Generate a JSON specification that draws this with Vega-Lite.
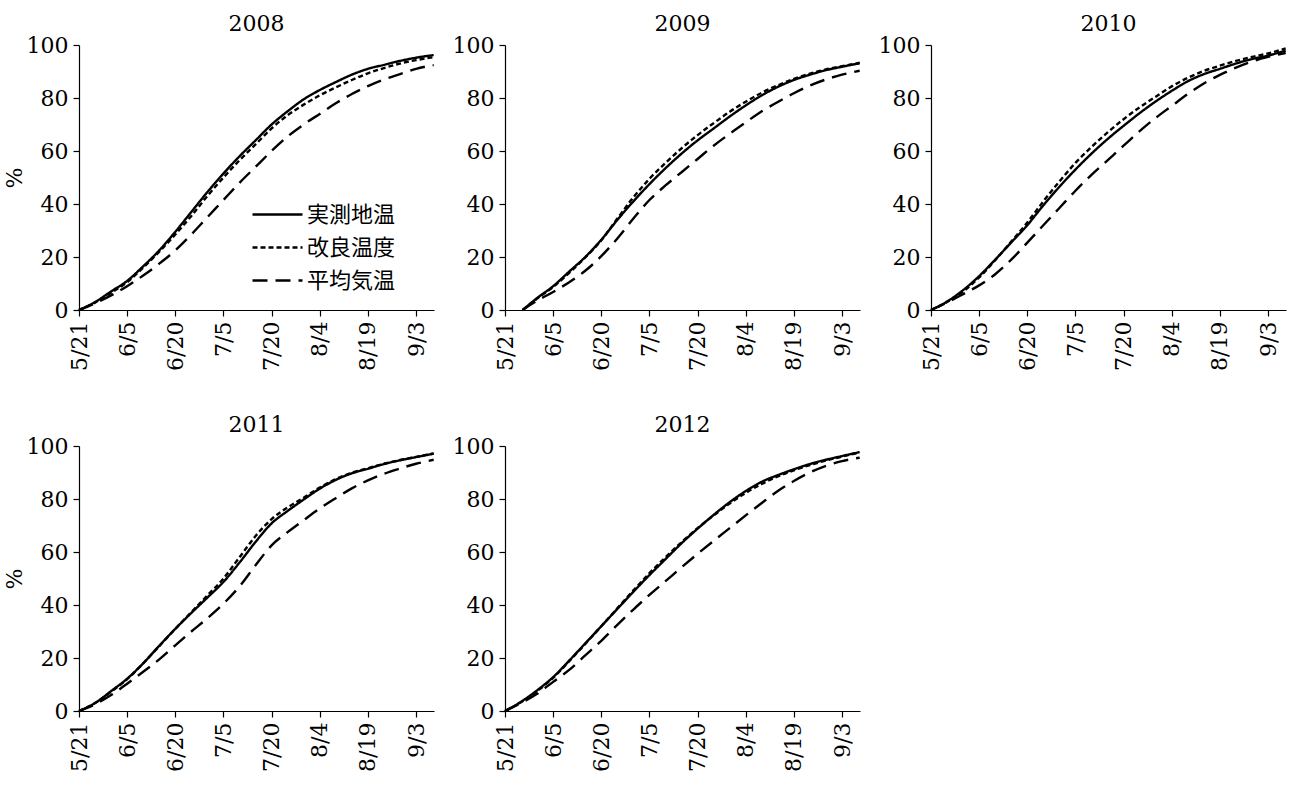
{
  "$schema": "https://vega.github.io/schema/vega-lite/v6.json",
  "background": "white",
  "padding": {"left": 3, "top": 13, "right": 5, "bottom": 5},
  "datasets": {
    "curves": [
      {"year":2008,"series":"実測地温","day":0,"pct":0},{"year":2008,"series":"実測地温","day":5,"pct":3},{"year":2008,"series":"実測地温","day":10,"pct":7},{"year":2008,"series":"実測地温","day":15,"pct":11},{"year":2008,"series":"実測地温","day":20,"pct":16.5},{"year":2008,"series":"実測地温","day":25,"pct":22.5},{"year":2008,"series":"実測地温","day":30,"pct":29.5},{"year":2008,"series":"実測地温","day":35,"pct":37},{"year":2008,"series":"実測地温","day":40,"pct":44.5},{"year":2008,"series":"実測地温","day":45,"pct":51.5},{"year":2008,"series":"実測地温","day":50,"pct":58},{"year":2008,"series":"実測地温","day":55,"pct":64},{"year":2008,"series":"実測地温","day":60,"pct":70},{"year":2008,"series":"実測地温","day":65,"pct":75},{"year":2008,"series":"実測地温","day":70,"pct":79.5},{"year":2008,"series":"実測地温","day":75,"pct":83},{"year":2008,"series":"実測地温","day":80,"pct":86},{"year":2008,"series":"実測地温","day":85,"pct":88.8},{"year":2008,"series":"実測地温","day":90,"pct":91},{"year":2008,"series":"実測地温","day":95,"pct":92.5},{"year":2008,"series":"実測地温","day":100,"pct":94},{"year":2008,"series":"実測地温","day":105,"pct":95.2},{"year":2008,"series":"実測地温","day":110.5,"pct":96.2},
      {"year":2008,"series":"改良温度","day":0,"pct":0},{"year":2008,"series":"改良温度","day":5,"pct":2.8},{"year":2008,"series":"改良温度","day":10,"pct":6.5},{"year":2008,"series":"改良温度","day":15,"pct":10.5},{"year":2008,"series":"改良温度","day":20,"pct":16},{"year":2008,"series":"改良温度","day":25,"pct":22},{"year":2008,"series":"改良温度","day":30,"pct":28.5},{"year":2008,"series":"改良温度","day":35,"pct":35.5},{"year":2008,"series":"改良温度","day":40,"pct":43},{"year":2008,"series":"改良温度","day":45,"pct":50},{"year":2008,"series":"改良温度","day":50,"pct":56.5},{"year":2008,"series":"改良温度","day":55,"pct":62.5},{"year":2008,"series":"改良温度","day":60,"pct":68.5},{"year":2008,"series":"改良温度","day":65,"pct":73.5},{"year":2008,"series":"改良温度","day":70,"pct":77.5},{"year":2008,"series":"改良温度","day":75,"pct":81},{"year":2008,"series":"改良温度","day":80,"pct":84},{"year":2008,"series":"改良温度","day":85,"pct":86.8},{"year":2008,"series":"改良温度","day":90,"pct":89.3},{"year":2008,"series":"改良温度","day":95,"pct":91.3},{"year":2008,"series":"改良温度","day":100,"pct":93},{"year":2008,"series":"改良温度","day":105,"pct":94.3},{"year":2008,"series":"改良温度","day":110.5,"pct":95.4},
      {"year":2008,"series":"平均気温","day":0,"pct":0},{"year":2008,"series":"平均気温","day":5,"pct":2.5},{"year":2008,"series":"平均気温","day":10,"pct":5.5},{"year":2008,"series":"平均気温","day":15,"pct":9},{"year":2008,"series":"平均気温","day":20,"pct":13},{"year":2008,"series":"平均気温","day":25,"pct":17.5},{"year":2008,"series":"平均気温","day":30,"pct":22.5},{"year":2008,"series":"平均気温","day":35,"pct":28.5},{"year":2008,"series":"平均気温","day":40,"pct":35},{"year":2008,"series":"平均気温","day":45,"pct":41.5},{"year":2008,"series":"平均気温","day":50,"pct":48},{"year":2008,"series":"平均気温","day":55,"pct":54},{"year":2008,"series":"平均気温","day":60,"pct":60},{"year":2008,"series":"平均気温","day":65,"pct":65.5},{"year":2008,"series":"平均気温","day":70,"pct":70},{"year":2008,"series":"平均気温","day":75,"pct":74},{"year":2008,"series":"平均気温","day":80,"pct":78},{"year":2008,"series":"平均気温","day":85,"pct":81.5},{"year":2008,"series":"平均気温","day":90,"pct":84.5},{"year":2008,"series":"平均気温","day":95,"pct":87},{"year":2008,"series":"平均気温","day":100,"pct":89},{"year":2008,"series":"平均気温","day":105,"pct":91},{"year":2008,"series":"平均気温","day":110.5,"pct":92.4},

      {"year":2009,"series":"実測地温","day":5.5,"pct":0},{"year":2009,"series":"実測地温","day":10,"pct":4.5},{"year":2009,"series":"実測地温","day":15,"pct":9},{"year":2009,"series":"実測地温","day":20,"pct":14.5},{"year":2009,"series":"実測地温","day":25,"pct":20},{"year":2009,"series":"実測地温","day":30,"pct":26.5},{"year":2009,"series":"実測地温","day":35,"pct":34},{"year":2009,"series":"実測地温","day":40,"pct":41},{"year":2009,"series":"実測地温","day":45,"pct":47.5},{"year":2009,"series":"実測地温","day":50,"pct":53.5},{"year":2009,"series":"実測地温","day":55,"pct":59},{"year":2009,"series":"実測地温","day":60,"pct":64},{"year":2009,"series":"実測地温","day":65,"pct":68.5},{"year":2009,"series":"実測地温","day":70,"pct":73},{"year":2009,"series":"実測地温","day":75,"pct":77.2},{"year":2009,"series":"実測地温","day":80,"pct":81},{"year":2009,"series":"実測地温","day":85,"pct":84.2},{"year":2009,"series":"実測地温","day":90,"pct":86.8},{"year":2009,"series":"実測地温","day":95,"pct":88.8},{"year":2009,"series":"実測地温","day":100,"pct":90.5},{"year":2009,"series":"実測地温","day":105,"pct":91.8},{"year":2009,"series":"実測地温","day":110.5,"pct":93.1},
      {"year":2009,"series":"改良温度","day":5.5,"pct":0},{"year":2009,"series":"改良温度","day":10,"pct":4.3},{"year":2009,"series":"改良温度","day":15,"pct":8.7},{"year":2009,"series":"改良温度","day":20,"pct":14},{"year":2009,"series":"改良温度","day":25,"pct":19.8},{"year":2009,"series":"改良温度","day":30,"pct":26.3},{"year":2009,"series":"改良温度","day":35,"pct":34.5},{"year":2009,"series":"改良温度","day":40,"pct":42.5},{"year":2009,"series":"改良温度","day":45,"pct":49.5},{"year":2009,"series":"改良温度","day":50,"pct":55.5},{"year":2009,"series":"改良温度","day":55,"pct":61},{"year":2009,"series":"改良温度","day":60,"pct":66},{"year":2009,"series":"改良温度","day":65,"pct":70.5},{"year":2009,"series":"改良温度","day":70,"pct":74.8},{"year":2009,"series":"改良温度","day":75,"pct":78.6},{"year":2009,"series":"改良温度","day":80,"pct":82},{"year":2009,"series":"改良温度","day":85,"pct":84.8},{"year":2009,"series":"改良温度","day":90,"pct":87.2},{"year":2009,"series":"改良温度","day":95,"pct":89.2},{"year":2009,"series":"改良温度","day":100,"pct":90.8},{"year":2009,"series":"改良温度","day":105,"pct":92},{"year":2009,"series":"改良温度","day":110.5,"pct":93.3},
      {"year":2009,"series":"平均気温","day":5.5,"pct":0},{"year":2009,"series":"平均気温","day":10,"pct":3.5},{"year":2009,"series":"平均気温","day":15,"pct":6.8},{"year":2009,"series":"平均気温","day":20,"pct":10.5},{"year":2009,"series":"平均気温","day":25,"pct":14.8},{"year":2009,"series":"平均気温","day":30,"pct":20.3},{"year":2009,"series":"平均気温","day":35,"pct":27},{"year":2009,"series":"平均気温","day":40,"pct":34.5},{"year":2009,"series":"平均気温","day":45,"pct":41.5},{"year":2009,"series":"平均気温","day":50,"pct":47},{"year":2009,"series":"平均気温","day":55,"pct":52},{"year":2009,"series":"平均気温","day":60,"pct":57},{"year":2009,"series":"平均気温","day":65,"pct":62},{"year":2009,"series":"平均気温","day":70,"pct":66.5},{"year":2009,"series":"平均気温","day":75,"pct":70.8},{"year":2009,"series":"平均気温","day":80,"pct":75},{"year":2009,"series":"平均気温","day":85,"pct":78.5},{"year":2009,"series":"平均気温","day":90,"pct":81.8},{"year":2009,"series":"平均気温","day":95,"pct":84.7},{"year":2009,"series":"平均気温","day":100,"pct":87},{"year":2009,"series":"平均気温","day":105,"pct":88.8},{"year":2009,"series":"平均気温","day":110.5,"pct":90.3},

      {"year":2010,"series":"実測地温","day":0,"pct":0},{"year":2010,"series":"実測地温","day":5,"pct":3.2},{"year":2010,"series":"実測地温","day":10,"pct":7.5},{"year":2010,"series":"実測地温","day":15,"pct":12.8},{"year":2010,"series":"実測地温","day":20,"pct":19},{"year":2010,"series":"実測地温","day":25,"pct":25.5},{"year":2010,"series":"実測地温","day":30,"pct":32},{"year":2010,"series":"実測地温","day":35,"pct":39.5},{"year":2010,"series":"実測地温","day":40,"pct":46.5},{"year":2010,"series":"実測地温","day":45,"pct":53},{"year":2010,"series":"実測地温","day":50,"pct":59},{"year":2010,"series":"実測地温","day":55,"pct":64.5},{"year":2010,"series":"実測地温","day":60,"pct":69.5},{"year":2010,"series":"実測地温","day":65,"pct":74.3},{"year":2010,"series":"実測地温","day":70,"pct":78.7},{"year":2010,"series":"実測地温","day":75,"pct":82.7},{"year":2010,"series":"実測地温","day":80,"pct":86.3},{"year":2010,"series":"実測地温","day":85,"pct":89},{"year":2010,"series":"実測地温","day":90,"pct":91},{"year":2010,"series":"実測地温","day":95,"pct":93},{"year":2010,"series":"実測地温","day":100,"pct":94.7},{"year":2010,"series":"実測地温","day":105,"pct":96},{"year":2010,"series":"実測地温","day":110.5,"pct":97.9},
      {"year":2010,"series":"改良温度","day":0,"pct":0},{"year":2010,"series":"改良温度","day":5,"pct":3},{"year":2010,"series":"改良温度","day":10,"pct":7},{"year":2010,"series":"改良温度","day":15,"pct":12.3},{"year":2010,"series":"改良温度","day":20,"pct":18.8},{"year":2010,"series":"改良温度","day":25,"pct":25.8},{"year":2010,"series":"改良温度","day":30,"pct":33},{"year":2010,"series":"改良温度","day":35,"pct":41},{"year":2010,"series":"改良温度","day":40,"pct":48.5},{"year":2010,"series":"改良温度","day":45,"pct":55.5},{"year":2010,"series":"改良温度","day":50,"pct":61.5},{"year":2010,"series":"改良温度","day":55,"pct":67},{"year":2010,"series":"改良温度","day":60,"pct":72},{"year":2010,"series":"改良温度","day":65,"pct":76.5},{"year":2010,"series":"改良温度","day":70,"pct":80.5},{"year":2010,"series":"改良温度","day":75,"pct":84.4},{"year":2010,"series":"改良温度","day":80,"pct":87.6},{"year":2010,"series":"改良温度","day":85,"pct":90.2},{"year":2010,"series":"改良温度","day":90,"pct":92.2},{"year":2010,"series":"改良温度","day":95,"pct":94},{"year":2010,"series":"改良温度","day":100,"pct":95.5},{"year":2010,"series":"改良温度","day":105,"pct":96.8},{"year":2010,"series":"改良温度","day":110.5,"pct":98.7},
      {"year":2010,"series":"平均気温","day":0,"pct":0},{"year":2010,"series":"平均気温","day":5,"pct":2.8},{"year":2010,"series":"平均気温","day":10,"pct":6},{"year":2010,"series":"平均気温","day":15,"pct":9.3},{"year":2010,"series":"平均気温","day":20,"pct":13.5},{"year":2010,"series":"平均気温","day":25,"pct":19},{"year":2010,"series":"平均気温","day":30,"pct":25.4},{"year":2010,"series":"平均気温","day":35,"pct":32},{"year":2010,"series":"平均気温","day":40,"pct":38.5},{"year":2010,"series":"平均気温","day":45,"pct":45},{"year":2010,"series":"平均気温","day":50,"pct":51},{"year":2010,"series":"平均気温","day":55,"pct":56.5},{"year":2010,"series":"平均気温","day":60,"pct":62},{"year":2010,"series":"平均気温","day":65,"pct":67.5},{"year":2010,"series":"平均気温","day":70,"pct":72.5},{"year":2010,"series":"平均気温","day":75,"pct":77},{"year":2010,"series":"平均気温","day":80,"pct":81.5},{"year":2010,"series":"平均気温","day":85,"pct":85.5},{"year":2010,"series":"平均気温","day":90,"pct":88.7},{"year":2010,"series":"平均気温","day":95,"pct":91.5},{"year":2010,"series":"平均気温","day":100,"pct":93.8},{"year":2010,"series":"平均気温","day":105,"pct":95.5},{"year":2010,"series":"平均気温","day":110.5,"pct":97},

      {"year":2011,"series":"実測地温","day":0,"pct":0},{"year":2011,"series":"実測地温","day":5,"pct":3},{"year":2011,"series":"実測地温","day":10,"pct":7.5},{"year":2011,"series":"実測地温","day":15,"pct":12.2},{"year":2011,"series":"実測地温","day":20,"pct":18},{"year":2011,"series":"実測地温","day":25,"pct":24.6},{"year":2011,"series":"実測地温","day":30,"pct":31},{"year":2011,"series":"実測地温","day":35,"pct":37},{"year":2011,"series":"実測地温","day":40,"pct":42.8},{"year":2011,"series":"実測地温","day":45,"pct":48.7},{"year":2011,"series":"実測地温","day":50,"pct":56},{"year":2011,"series":"実測地温","day":55,"pct":63.8},{"year":2011,"series":"実測地温","day":60,"pct":70.8},{"year":2011,"series":"実測地温","day":65,"pct":75.5},{"year":2011,"series":"実測地温","day":70,"pct":79.8},{"year":2011,"series":"実測地温","day":75,"pct":83.9},{"year":2011,"series":"実測地温","day":80,"pct":87.2},{"year":2011,"series":"実測地温","day":85,"pct":89.7},{"year":2011,"series":"実測地温","day":90,"pct":91.4},{"year":2011,"series":"実測地温","day":95,"pct":93.2},{"year":2011,"series":"実測地温","day":100,"pct":94.6},{"year":2011,"series":"実測地温","day":105,"pct":95.8},{"year":2011,"series":"実測地温","day":110.5,"pct":97.1},
      {"year":2011,"series":"改良温度","day":0,"pct":0},{"year":2011,"series":"改良温度","day":5,"pct":3},{"year":2011,"series":"改良温度","day":10,"pct":7.3},{"year":2011,"series":"改良温度","day":15,"pct":12},{"year":2011,"series":"改良温度","day":20,"pct":18},{"year":2011,"series":"改良温度","day":25,"pct":24.5},{"year":2011,"series":"改良温度","day":30,"pct":31},{"year":2011,"series":"改良温度","day":35,"pct":37.3},{"year":2011,"series":"改良温度","day":40,"pct":43.6},{"year":2011,"series":"改良温度","day":45,"pct":50},{"year":2011,"series":"改良温度","day":50,"pct":58},{"year":2011,"series":"改良温度","day":55,"pct":66},{"year":2011,"series":"改良温度","day":60,"pct":72.4},{"year":2011,"series":"改良温度","day":65,"pct":76.8},{"year":2011,"series":"改良温度","day":70,"pct":80.5},{"year":2011,"series":"改良温度","day":75,"pct":84.3},{"year":2011,"series":"改良温度","day":80,"pct":87.5},{"year":2011,"series":"改良温度","day":85,"pct":89.9},{"year":2011,"series":"改良温度","day":90,"pct":91.6},{"year":2011,"series":"改良温度","day":95,"pct":93.3},{"year":2011,"series":"改良温度","day":100,"pct":94.7},{"year":2011,"series":"改良温度","day":105,"pct":95.9},{"year":2011,"series":"改良温度","day":110.5,"pct":97.2},
      {"year":2011,"series":"平均気温","day":0,"pct":0},{"year":2011,"series":"平均気温","day":5,"pct":2.5},{"year":2011,"series":"平均気温","day":10,"pct":6},{"year":2011,"series":"平均気温","day":15,"pct":10.3},{"year":2011,"series":"平均気温","day":20,"pct":14.8},{"year":2011,"series":"平均気温","day":25,"pct":19.5},{"year":2011,"series":"平均気温","day":30,"pct":24.8},{"year":2011,"series":"平均気温","day":35,"pct":30},{"year":2011,"series":"平均気温","day":40,"pct":35},{"year":2011,"series":"平均気温","day":45,"pct":40.5},{"year":2011,"series":"平均気温","day":50,"pct":47},{"year":2011,"series":"平均気温","day":55,"pct":55},{"year":2011,"series":"平均気温","day":60,"pct":62.5},{"year":2011,"series":"平均気温","day":65,"pct":67.5},{"year":2011,"series":"平均気温","day":70,"pct":72},{"year":2011,"series":"平均気温","day":75,"pct":76.4},{"year":2011,"series":"平均気温","day":80,"pct":80.3},{"year":2011,"series":"平均気温","day":85,"pct":84},{"year":2011,"series":"平均気温","day":90,"pct":87},{"year":2011,"series":"平均気温","day":95,"pct":89.5},{"year":2011,"series":"平均気温","day":100,"pct":91.5},{"year":2011,"series":"平均気温","day":105,"pct":93.3},{"year":2011,"series":"平均気温","day":110.5,"pct":94.8},

      {"year":2012,"series":"実測地温","day":0,"pct":0},{"year":2012,"series":"実測地温","day":5,"pct":3.5},{"year":2012,"series":"実測地温","day":10,"pct":7.8},{"year":2012,"series":"実測地温","day":15,"pct":12.8},{"year":2012,"series":"実測地温","day":20,"pct":19},{"year":2012,"series":"実測地温","day":25,"pct":25.5},{"year":2012,"series":"実測地温","day":30,"pct":32},{"year":2012,"series":"実測地温","day":35,"pct":38.5},{"year":2012,"series":"実測地温","day":40,"pct":45},{"year":2012,"series":"実測地温","day":45,"pct":51.3},{"year":2012,"series":"実測地温","day":50,"pct":57.3},{"year":2012,"series":"実測地温","day":55,"pct":63.3},{"year":2012,"series":"実測地温","day":60,"pct":68.8},{"year":2012,"series":"実測地温","day":65,"pct":74},{"year":2012,"series":"実測地温","day":70,"pct":78.8},{"year":2012,"series":"実測地温","day":75,"pct":83},{"year":2012,"series":"実測地温","day":80,"pct":86.5},{"year":2012,"series":"実測地温","day":85,"pct":89},{"year":2012,"series":"実測地温","day":90,"pct":91.2},{"year":2012,"series":"実測地温","day":95,"pct":93.2},{"year":2012,"series":"実測地温","day":100,"pct":94.8},{"year":2012,"series":"実測地温","day":105,"pct":96.2},{"year":2012,"series":"実測地温","day":110.5,"pct":97.7},
      {"year":2012,"series":"改良温度","day":0,"pct":0},{"year":2012,"series":"改良温度","day":5,"pct":3.3},{"year":2012,"series":"改良温度","day":10,"pct":7.5},{"year":2012,"series":"改良温度","day":15,"pct":12.5},{"year":2012,"series":"改良温度","day":20,"pct":18.8},{"year":2012,"series":"改良温度","day":25,"pct":25.3},{"year":2012,"series":"改良温度","day":30,"pct":32},{"year":2012,"series":"改良温度","day":35,"pct":38.8},{"year":2012,"series":"改良温度","day":40,"pct":45.5},{"year":2012,"series":"改良温度","day":45,"pct":52},{"year":2012,"series":"改良温度","day":50,"pct":58},{"year":2012,"series":"改良温度","day":55,"pct":63.7},{"year":2012,"series":"改良温度","day":60,"pct":69},{"year":2012,"series":"改良温度","day":65,"pct":73.8},{"year":2012,"series":"改良温度","day":70,"pct":78.3},{"year":2012,"series":"改良温度","day":75,"pct":82.3},{"year":2012,"series":"改良温度","day":80,"pct":85.7},{"year":2012,"series":"改良温度","day":85,"pct":88.5},{"year":2012,"series":"改良温度","day":90,"pct":90.8},{"year":2012,"series":"改良温度","day":95,"pct":92.8},{"year":2012,"series":"改良温度","day":100,"pct":94.5},{"year":2012,"series":"改良温度","day":105,"pct":96},{"year":2012,"series":"改良温度","day":110.5,"pct":97.6},
      {"year":2012,"series":"平均気温","day":0,"pct":0},{"year":2012,"series":"平均気温","day":5,"pct":3},{"year":2012,"series":"平均気温","day":10,"pct":6.5},{"year":2012,"series":"平均気温","day":15,"pct":11},{"year":2012,"series":"平均気温","day":20,"pct":15.5},{"year":2012,"series":"平均気温","day":25,"pct":21},{"year":2012,"series":"平均気温","day":30,"pct":26.5},{"year":2012,"series":"平均気温","day":35,"pct":32.5},{"year":2012,"series":"平均気温","day":40,"pct":38.3},{"year":2012,"series":"平均気温","day":45,"pct":43.8},{"year":2012,"series":"平均気温","day":50,"pct":49},{"year":2012,"series":"平均気温","day":55,"pct":54.2},{"year":2012,"series":"平均気温","day":60,"pct":59.3},{"year":2012,"series":"平均気温","day":65,"pct":64.2},{"year":2012,"series":"平均気温","day":70,"pct":69},{"year":2012,"series":"平均気温","day":75,"pct":73.8},{"year":2012,"series":"平均気温","day":80,"pct":78.5},{"year":2012,"series":"平均気温","day":85,"pct":83},{"year":2012,"series":"平均気温","day":90,"pct":86.8},{"year":2012,"series":"平均気温","day":95,"pct":90},{"year":2012,"series":"平均気温","day":100,"pct":92.5},{"year":2012,"series":"平均気温","day":105,"pct":94.3},{"year":2012,"series":"平均気温","day":110.5,"pct":95.6}
    ]
  },
  "data": {"name": "curves"},
  "columns": 3,
  "spacing": {"row": 136, "column": 71},
  "bounds": "flush",
  "resolve": {"legend": {"strokeDash": "independent"}},
  "concat": [
    {
      "title": {"text": "2008"},
      "width": 355, "height": 265,
      "transform": [{"filter": "datum.year == 2008"}],
      "mark": {"type": "line", "interpolate": "monotone", "color": "black", "strokeWidth": 2.4},
      "encoding": {
        "x": {"field": "day", "type": "quantitative", "scale": {"domain": [0, 110.6], "nice": false, "zero": false},
              "axis": {"values": [0,15,30,45,60,75,90,105], "labelExpr": "['5/21','6/5','6/20','7/5','7/20','8/4','8/19','9/3'][round(datum.value/15)]", "labelAngle": -90, "title": null}},
        "y": {"field": "pct", "type": "quantitative", "scale": {"domain": [0, 100], "nice": false},
              "axis": {"values": [0,20,40,60,80,100], "title": "%"}},
        "strokeDash": {"field": "series", "type": "nominal",
              "scale": {"domain": ["実測地温","改良温度","平均気温"], "range": [[1,0],[5,3],[15,8]]},
              "legend": {"orient": "none", "legendX": 172, "legendY": 158, "title": null, "symbolType": "M-1,0H4", "symbolSize": 400, "symbolStrokeWidth": 2.5, "symbolStrokeColor": "black", "symbolFillColor": "transparent", "labelFont": "Noto Sans CJK JP", "labelFontSize": 22, "labelColor": "black", "labelOffset": 33, "rowPadding": 10, "padding": 0}}
      }
    },
    {
      "title": {"text": "2009"},
      "width": 355, "height": 265,
      "transform": [{"filter": "datum.year == 2009"}],
      "mark": {"type": "line", "interpolate": "monotone", "color": "black", "strokeWidth": 2.4},
      "encoding": {
        "x": {"field": "day", "type": "quantitative", "scale": {"domain": [0, 110.6], "nice": false, "zero": false},
              "axis": {"values": [0,15,30,45,60,75,90,105], "labelExpr": "['5/21','6/5','6/20','7/5','7/20','8/4','8/19','9/3'][round(datum.value/15)]", "labelAngle": -90, "title": null}},
        "y": {"field": "pct", "type": "quantitative", "scale": {"domain": [0, 100], "nice": false},
              "axis": {"values": [0,20,40,60,80,100], "title": null}},
        "strokeDash": {"field": "series", "type": "nominal",
              "scale": {"domain": ["実測地温","改良温度","平均気温"], "range": [[1,0],[5,3],[15,8]]}, "legend": null}
      }
    },
    {
      "title": {"text": "2010"},
      "width": 355, "height": 265,
      "transform": [{"filter": "datum.year == 2010"}],
      "mark": {"type": "line", "interpolate": "monotone", "color": "black", "strokeWidth": 2.4},
      "encoding": {
        "x": {"field": "day", "type": "quantitative", "scale": {"domain": [0, 110.6], "nice": false, "zero": false},
              "axis": {"values": [0,15,30,45,60,75,90,105], "labelExpr": "['5/21','6/5','6/20','7/5','7/20','8/4','8/19','9/3'][round(datum.value/15)]", "labelAngle": -90, "title": null}},
        "y": {"field": "pct", "type": "quantitative", "scale": {"domain": [0, 100], "nice": false},
              "axis": {"values": [0,20,40,60,80,100], "title": null}},
        "strokeDash": {"field": "series", "type": "nominal",
              "scale": {"domain": ["実測地温","改良温度","平均気温"], "range": [[1,0],[5,3],[15,8]]}, "legend": null}
      }
    },
    {
      "title": {"text": "2011"},
      "width": 355, "height": 265,
      "transform": [{"filter": "datum.year == 2011"}],
      "mark": {"type": "line", "interpolate": "monotone", "color": "black", "strokeWidth": 2.4},
      "encoding": {
        "x": {"field": "day", "type": "quantitative", "scale": {"domain": [0, 110.6], "nice": false, "zero": false},
              "axis": {"values": [0,15,30,45,60,75,90,105], "labelExpr": "['5/21','6/5','6/20','7/5','7/20','8/4','8/19','9/3'][round(datum.value/15)]", "labelAngle": -90, "title": null}},
        "y": {"field": "pct", "type": "quantitative", "scale": {"domain": [0, 100], "nice": false},
              "axis": {"values": [0,20,40,60,80,100], "title": "%"}},
        "strokeDash": {"field": "series", "type": "nominal",
              "scale": {"domain": ["実測地温","改良温度","平均気温"], "range": [[1,0],[5,3],[15,8]]}, "legend": null}
      }
    },
    {
      "title": {"text": "2012"},
      "width": 355, "height": 265,
      "transform": [{"filter": "datum.year == 2012"}],
      "mark": {"type": "line", "interpolate": "monotone", "color": "black", "strokeWidth": 2.4},
      "encoding": {
        "x": {"field": "day", "type": "quantitative", "scale": {"domain": [0, 110.6], "nice": false, "zero": false},
              "axis": {"values": [0,15,30,45,60,75,90,105], "labelExpr": "['5/21','6/5','6/20','7/5','7/20','8/4','8/19','9/3'][round(datum.value/15)]", "labelAngle": -90, "title": null}},
        "y": {"field": "pct", "type": "quantitative", "scale": {"domain": [0, 100], "nice": false},
              "axis": {"values": [0,20,40,60,80,100], "title": null}},
        "strokeDash": {"field": "series", "type": "nominal",
              "scale": {"domain": ["実測地温","改良温度","平均気温"], "range": [[1,0],[5,3],[15,8]]}, "legend": null}
      }
    }
  ],
  "config": {
    "font": "DejaVu Serif",
    "view": {"stroke": null},
    "axis": {"grid": false, "domainColor": "black", "domainWidth": 1.2, "tickColor": "black", "tickWidth": 1.2, "tickSize": 6,
             "labelColor": "black", "labelFont": "DejaVu Serif", "labelFontSize": 22, "labelFlush": false, "labelOverlap": false,
             "titleColor": "black", "titleFont": "DejaVu Serif", "titleFontSize": 22, "titleFontWeight": "normal"},
    "axisX": {"labelPadding": 5},
    "axisY": {"labelPadding": 5, "titlePadding": 0},
    "title": {"font": "DejaVu Serif", "fontSize": 22, "fontWeight": "normal", "color": "black", "anchor": "middle", "offset": -2}
  }
}
